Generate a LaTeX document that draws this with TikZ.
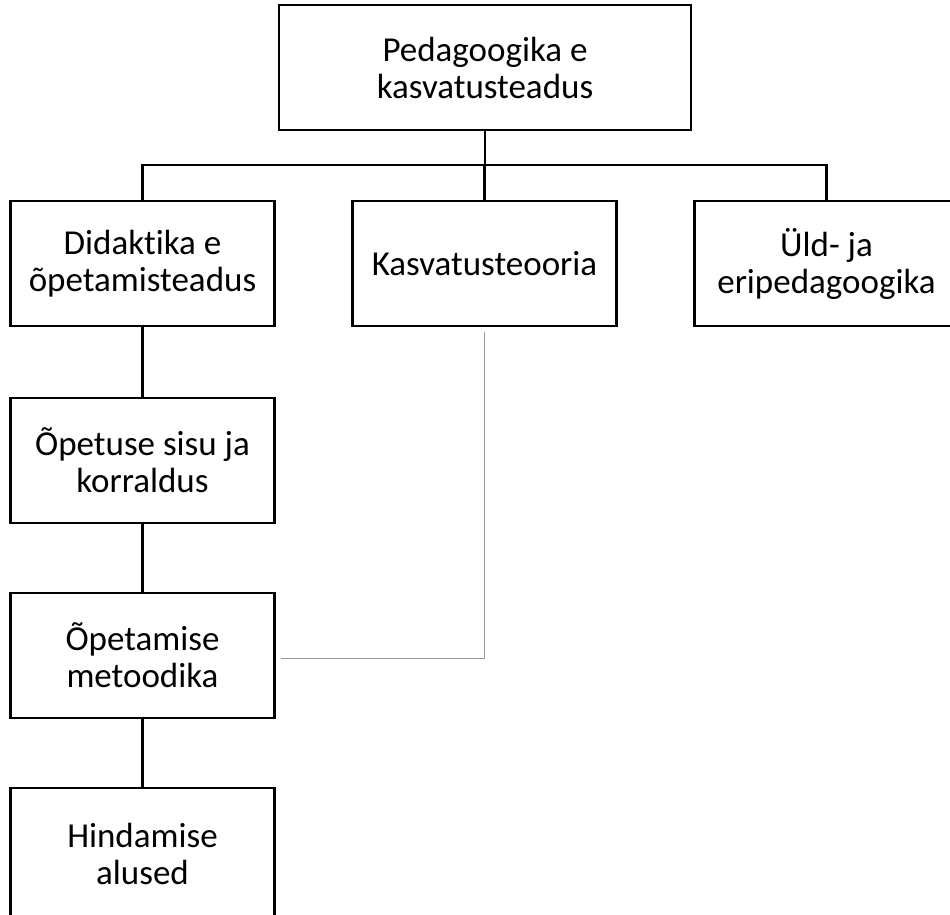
\documentclass[tikz,border=0pt]{standalone}
\usepackage{fontspec}
\setmainfont{Carlito}[Ligatures={NoCommon}]
\usetikzlibrary{positioning}

\begin{document}
\begin{tikzpicture}[
  x=1pt, y=-1pt,
  font=\fontsize{35}{37}\selectfont,
  box/.style={
    rectangle,
    draw=black,
    line width=2.6pt,
    outer sep=0pt,
    minimum width=264pt,
    minimum height=125pt,
    align=center
  },
  branch/.style={
    draw=black,
    line width=2.6pt
  },
  crosslink/.style={
    draw=black!40,
    line width=1.6pt
  }
]
\useasboundingbox (0,0) rectangle (950,914);
\clip (0,0) rectangle (950,914);

\node[box, minimum width=412pt] (ped) at (485,67.5) {Pedagoogika e\\kasvatusteadus};
\node[box] (did) at (142.5,263.5) {Didaktika e\\õpetamisteadus};
\node[box, right=78pt of did] (kasv) {Kasvatusteooria};
\node[box, right=78pt of kasv] (yld) {Üld- ja\\eripedagoogika};
\node[box, below=72pt of did] (sisu) {Õpetuse sisu ja\\korraldus};
\node[box, below=70pt of sisu] (metood) {Õpetamise\\metoodika};
\node[box, below=70pt of metood, minimum height=132pt] (hind) {Hindamise\\alused};

\coordinate (bus) at ([yshift=-35pt]ped.south);
\draw[branch] (ped.south) -- (bus);
\draw[branch] (bus) -| (did.north);
\draw[branch] (bus) -| (kasv.north);
\draw[branch] (bus) -| (yld.north);
\draw[branch] (did) -- (sisu);
\draw[branch] (sisu) -- (metood);
\draw[branch] (metood) -- (hind);
\draw[crosslink] ([yshift=-6pt]kasv.south) |- ([xshift=6pt,yshift=-3pt]metood.east);

\end{tikzpicture}
\end{document}
